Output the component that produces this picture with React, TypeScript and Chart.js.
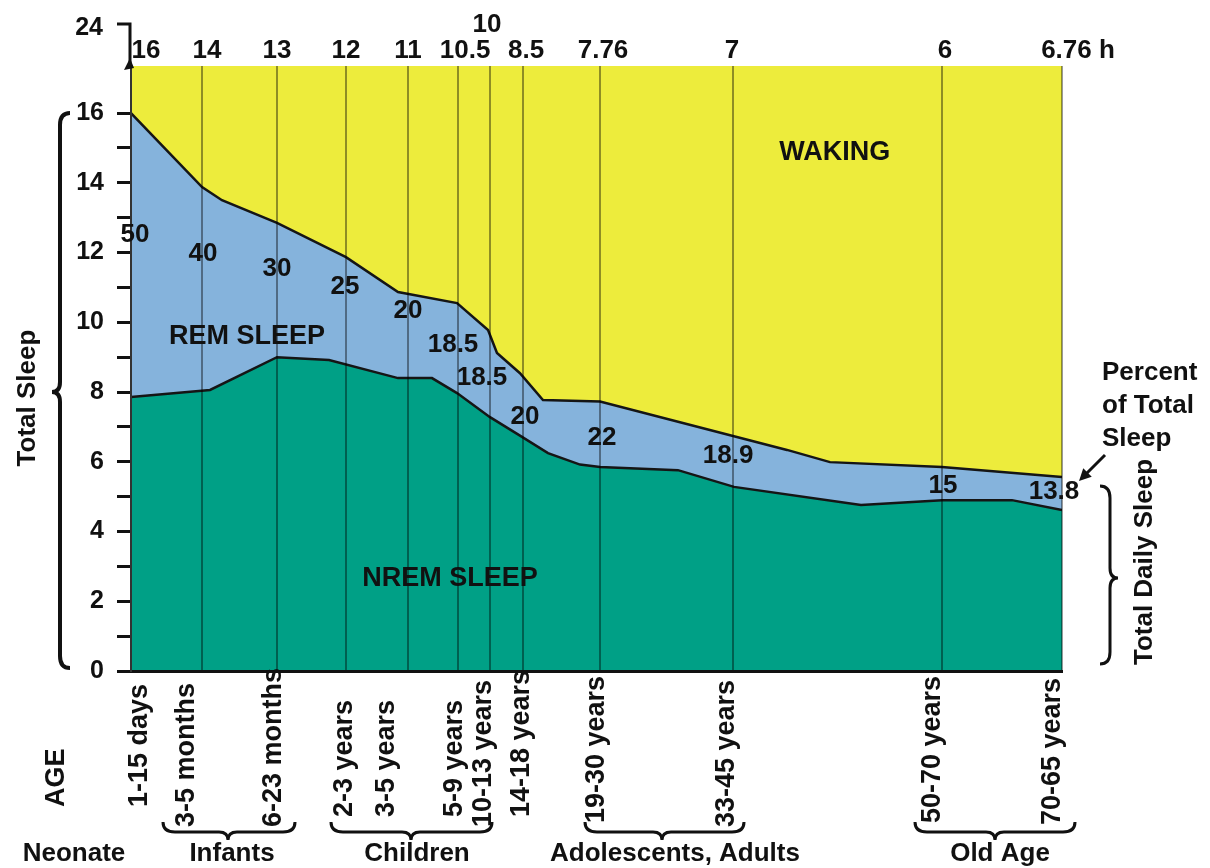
import React, { useEffect, useRef } from 'react';
import { Chart, registerables } from 'chart.js';

Chart.register(...registerables);

// ---------- DATA ----------
const ageGroups = ['1-15 days', '3-5 months', '6-23 months', '2-3 years', '3-5 years', '5-9 years', '10-13 years', '14-18 years', '19-30 years', '33-45 years', '50-70 years', '70-65 years'];
// position of each age group along the (non-linear) age axis, 0..100
const agePos = [0, 7.63, 15.68, 23.09, 29.75, 35.12, 38.56, 42.11, 50.38, 64.66, 87.11, 100];
// total daily sleep (hours) printed above each age group
const totalSleepLabels = ['16', '14', '13', '12', '11', '10.5', '10', '8.5', '7.76', '7', '6', '6.76 h'];
// REM sleep as percent of total sleep
const remPercent = ['50', '40', '30', '25', '20', '18.5', '18.5', '20', '22', '18.9', '15', '13.8'];

// total sleep curve (top of REM band), hours
const totalX = [0, 7.63, 9.77, 15.68, 23.09, 28.68, 35.02, 38.35, 39.31, 41.78, 44.25, 50.38, 70.46, 75.08, 87.11, 100];
const totalY = [16.0, 13.88, 13.5, 12.85, 11.87, 10.87, 10.55, 9.78, 9.12, 8.54, 7.77, 7.73, 6.34, 5.99, 5.85, 5.56];
// NREM curve (top of NREM band), hours
const nremX = [0, 8.49, 15.68, 21.27, 28.68, 32.33, 35.02, 38.56, 41.78, 44.79, 48.23, 50.38, 58.75, 64.77, 78.41, 87.11, 94.63, 100];
const nremY = [7.86, 8.06, 9.0, 8.92, 8.4, 8.4, 7.97, 7.28, 6.75, 6.25, 5.92, 5.85, 5.76, 5.28, 4.76, 4.9, 4.9, 4.62];

const yTickValues = [0, 1, 2, 3, 4, 5, 6, 7, 8, 9, 10, 11, 12, 13, 14, 15, 16];
const yTopLabel = '24';

// ---------- LAYOUT (positions only) ----------
const hourLabelX = [1.61, 8.16, 15.68, 23.09, 29.75, 35.88, 38.24, 42.43, 50.7, 64.55, 87.43, 101.72];
const hourLabelRaised = [false, false, false, false, false, false, true, false, false, false, false, false];
const ageLabelX = [0.9, 6.0, 15.36, 22.99, 27.5, 34.8, 37.9, 41.9, 50.05, 64.02, 86.14, 99.03];
const ageLabelBottom = [807, 827, 827, 817, 817, 817, 827, 817, 823, 827, 823, 825];
const remLabelX = [0.43, 7.73, 15.68, 22.99, 29.75, 34.59, 37.7, 42.32, 50.59, 64.13, 87.22, 99.14];
const remLabelY = [12.5, 11.96, 11.53, 11.01, 10.32, 9.35, 8.4, 7.28, 6.68, 6.16, 5.31, 5.13];

const groupNames = ['Neonate', 'Infants', 'Children', 'Adolescents, Adults', 'Old Age'];
const groupLabelX = [74, 232, 417, 675, 1000];
const groupBrace: (number[] | null)[] = [null, [163, 295, 228], [331, 492, 411], [585, 744, 662], [915, 1075, 995]];

const YELLOW = 'rgb(237,236,60)';
const BLUE = 'rgb(133,179,220)';
const GREEN = 'rgb(0,160,134)';
const INK = '#111';
const FONT = "'Liberation Sans', Arial, Helvetica, sans-serif";

function vBrace(ctx: CanvasRenderingContext2D, x: number, y1: number, y2: number, tipY: number, dir: number) {
  const c = 10;
  ctx.beginPath();
  ctx.moveTo(x - dir * c, y1);
  ctx.quadraticCurveTo(x, y1, x, y1 + 12);
  ctx.lineTo(x, tipY - 10);
  ctx.quadraticCurveTo(x, tipY, x + dir * 8, tipY);
  ctx.quadraticCurveTo(x, tipY, x, tipY + 10);
  ctx.lineTo(x, y2 - 12);
  ctx.quadraticCurveTo(x, y2, x - dir * c, y2);
  ctx.stroke();
}

function hBrace(ctx: CanvasRenderingContext2D, x1: number, x2: number, y: number, tipX: number) {
  ctx.beginPath();
  ctx.moveTo(x1, y - 10);
  ctx.quadraticCurveTo(x1, y, x1 + 12, y);
  ctx.lineTo(tipX - 9, y);
  ctx.quadraticCurveTo(tipX, y, tipX, y + 8);
  ctx.quadraticCurveTo(tipX, y, tipX + 9, y);
  ctx.lineTo(x2 - 12, y);
  ctx.quadraticCurveTo(x2, y, x2, y - 10);
  ctx.stroke();
}

function rotText(ctx: CanvasRenderingContext2D, text: string, x: number, y: number, align: CanvasTextAlign) {
  ctx.save();
  ctx.translate(x, y);
  ctx.rotate(-Math.PI / 2);
  ctx.textAlign = align;
  ctx.textBaseline = 'middle';
  ctx.fillText(text, 0, 0);
  ctx.restore();
}

const decorPlugin = {
  id: 'decor',
  beforeDraw(chart: any) {
    const { ctx, chartArea: a } = chart;
    ctx.save();
    ctx.fillStyle = YELLOW;
    ctx.fillRect(a.left, a.top, a.right - a.left, a.bottom - a.top);
    ctx.restore();
  },
  afterDatasetsDraw(chart: any) {
    const { ctx, chartArea: a } = chart;
    const xs = chart.scales.x;
    ctx.save();
    ctx.strokeStyle = 'rgba(0,0,0,0.4)';
    ctx.lineWidth = 2;
    agePos.forEach((v) => {
      if (v === 0) return;
      const px = Math.round(xs.getPixelForValue(v));
      ctx.beginPath();
      ctx.moveTo(px, a.top);
      ctx.lineTo(px, a.bottom);
      ctx.stroke();
    });
    ctx.restore();
  },
  afterDraw(chart: any) {
    const { ctx } = chart;
    const xs = chart.scales.x;
    const ys = chart.scales.y;
    ctx.save();
    ctx.fillStyle = INK;
    ctx.strokeStyle = INK;

    // top "24" label and axis break
    ctx.font = `bold 25px ${FONT}`;
    ctx.textAlign = 'right';
    ctx.textBaseline = 'middle';
    ctx.fillText(yTopLabel, 103, 28);
    ctx.lineWidth = 3;
    ctx.beginPath();
    ctx.moveTo(117, 24);
    ctx.lineTo(130, 24);
    ctx.lineTo(130, 66);
    ctx.stroke();
    ctx.beginPath();
    ctx.moveTo(130, 58);
    ctx.lineTo(124, 70);
    ctx.lineTo(134, 68);
    ctx.closePath();
    ctx.fill();

    // hour labels on top
    ctx.font = `bold 26px ${FONT}`;
    ctx.textAlign = 'center';
    totalSleepLabels.forEach((t, i) => {
      ctx.fillText(t, xs.getPixelForValue(hourLabelX[i]), hourLabelRaised[i] ? 25 : 51);
    });

    // REM percent labels
    remPercent.forEach((t, i) => {
      ctx.fillText(t, xs.getPixelForValue(remLabelX[i]), ys.getPixelForValue(remLabelY[i]));
    });

    // region labels
    ctx.font = `bold 27px ${FONT}`;
    ctx.fillText('WAKING', xs.getPixelForValue(75.6), ys.getPixelForValue(14.88));
    ctx.fillText('REM SLEEP', xs.getPixelForValue(12.46), ys.getPixelForValue(9.58));
    ctx.fillText('NREM SLEEP', xs.getPixelForValue(34.26), ys.getPixelForValue(2.64));

    // age labels
    ctx.font = `bold 27px ${FONT}`;
    ageGroups.forEach((t, i) => {
      rotText(ctx, t, xs.getPixelForValue(ageLabelX[i]), ageLabelBottom[i], 'left');
    });
    rotText(ctx, 'AGE', 57, 807, 'left');

    // group labels and braces
    ctx.font = `bold 26px ${FONT}`;
    ctx.textAlign = 'center';
    ctx.textBaseline = 'middle';
    groupNames.forEach((g, i) => {
      ctx.fillText(g, groupLabelX[i], 854);
    });
    ctx.lineWidth = 3;
    groupBrace.forEach((b) => {
      if (b) hBrace(ctx, b[0], b[1], 832, b[2]);
    });

    // left axis title and brace
    ctx.font = `bold 26px ${FONT}`;
    rotText(ctx, 'Total Sleep', 28, 398, 'center');
    ctx.lineWidth = 4;
    vBrace(ctx, 60, 113, 668, 392, -1);

    // right annotations
    ctx.textAlign = 'left';
    ctx.textBaseline = 'middle';
    ctx.fillText('Percent', 1102, 373);
    ctx.fillText('of Total', 1102, 406);
    ctx.fillText('Sleep', 1102, 439);
    // arrow
    ctx.lineWidth = 3;
    const ax0 = 1105, ay0 = 455, ax1 = 1079, ay1 = 481;
    ctx.beginPath();
    ctx.moveTo(ax0, ay0);
    ctx.lineTo(ax1 + 5, ay1 - 5);
    ctx.stroke();
    const ang = Math.atan2(ay1 - ay0, ax1 - ax0);
    ctx.beginPath();
    ctx.moveTo(ax1, ay1);
    ctx.lineTo(ax1 - 12 * Math.cos(ang) + 6 * Math.sin(ang), ay1 - 12 * Math.sin(ang) - 6 * Math.cos(ang));
    ctx.lineTo(ax1 - 12 * Math.cos(ang) - 6 * Math.sin(ang), ay1 - 12 * Math.sin(ang) + 6 * Math.cos(ang));
    ctx.closePath();
    ctx.fill();
    ctx.lineWidth = 3;
    vBrace(ctx, 1110, 486, 664, 578, 1);
    rotText(ctx, 'Total Daily Sleep', 1145, 562, 'center');

    ctx.restore();
  },
};

export default function App() {
  const ref = useRef<HTMLCanvasElement | null>(null);
  useEffect(() => {
    document.body.style.margin = '0';
    if (!ref.current) return;
    const chart = new Chart(ref.current, {
      type: 'line',
      data: {
        datasets: [
          {
            label: 'NREM sleep',
            data: nremX.map((x, i) => ({ x, y: nremY[i] })),
            fill: 'origin',
            backgroundColor: GREEN,
            borderColor: '#151515',
            borderWidth: 2.5,
            pointRadius: 0,
            tension: 0,
          },
          {
            label: 'Total sleep',
            data: totalX.map((x, i) => ({ x, y: totalY[i] })),
            fill: 'origin',
            backgroundColor: BLUE,
            borderColor: '#151515',
            borderWidth: 2.5,
            pointRadius: 0,
            tension: 0,
          },
        ],
      },
      options: {
        responsive: false,
        animation: false,
        layout: { padding: { top: 66, right: 148, left: 0, bottom: 0 } },
        plugins: { legend: { display: false }, tooltip: { enabled: false } },
        scales: {
          x: {
            type: 'linear',
            min: 0,
            max: 100,
            afterFit: (s: any) => { s.height = 197; },
            ticks: { display: false },
            grid: { display: false },
            border: { display: true, color: INK, width: 3, z: 1 },
          },
          y: {
            type: 'linear',
            min: 0,
            max: 17.35,
            afterFit: (s: any) => { s.width = 131; },
            afterBuildTicks: (s: any) => { s.ticks = yTickValues.map((v) => ({ value: v })); },
            ticks: {
              callback: (v: any) => (Number(v) % 2 === 0 ? String(v) : ''),
              font: { family: FONT, size: 25, weight: 'bold' },
              color: INK,
              padding: 13,
            },
            grid: { drawOnChartArea: false, drawTicks: true, tickLength: 14, tickWidth: 3, tickColor: INK },
            border: { display: true, color: '#333', width: 2, z: 1 },
          },
        },
      },
      plugins: [decorPlugin],
    } as any);
    return () => chart.destroy();
  }, []);
  return (
    <div style={{ position: 'fixed', left: 0, top: 0, width: 1210, height: 868, background: '#fff' }}>
      <canvas ref={ref} width={1210} height={868} style={{ display: 'block' }} />
    </div>
  );
}
